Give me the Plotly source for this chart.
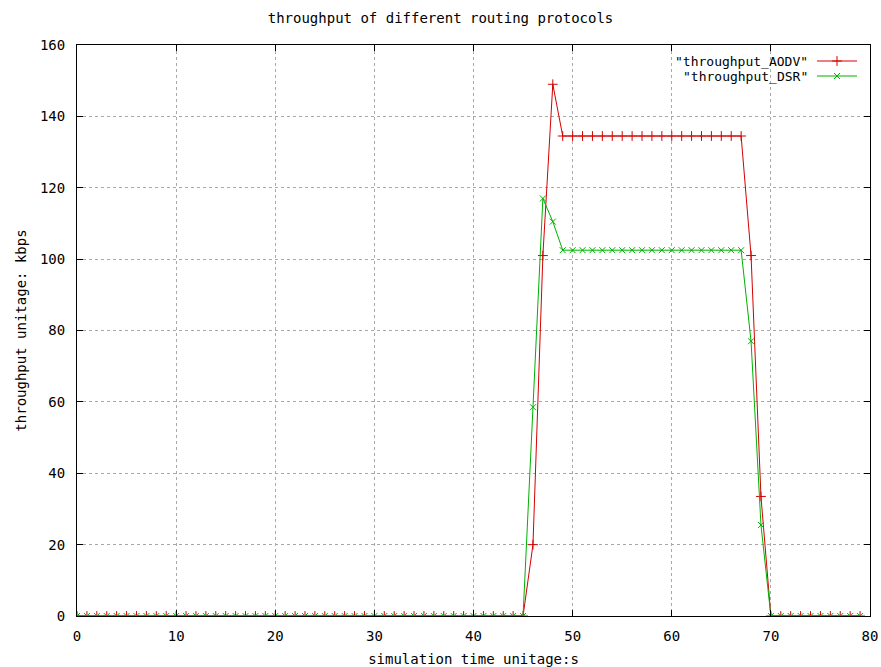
import plotly.graph_objects as go

time_s = list(range(0, 80))

aodv_tail = [20, 101, 149] + [134.5] * 19 + [101, 33.5]
aodv = [0] * 46 + aodv_tail
aodv = aodv + [0] * (80 - len(aodv))

dsr_tail = [58.5, 117, 110.5] + [102.5] * 19 + [77, 25.5]
dsr = [0] * 46 + dsr_tail
dsr = dsr + [0] * (80 - len(dsr))

series_names = ['"throughput_AODV"', '"throughput_DSR"']
series_colors = ["#d40000", "#00b000"]

x_ticks = list(range(0, 81, 10))
y_ticks = list(range(0, 161, 20))

FONT = "DejaVu Sans Mono"
FS = 14

L, R, T, B = 77, 10, 45, 51
W, H = 881, 667

pw = W - L - R
ph = H - T - B
def px_x(p):
    return (p - L) / pw
def px_y(p):
    return (H - B - p) / ph

fig = go.Figure()
fig.add_trace(go.Scatter(
    x=time_s, y=aodv, mode="lines+markers", name=" ", legend="legend",
    line=dict(color=series_colors[0], width=1),
    marker=dict(symbol="cross-thin", size=7, line=dict(color=series_colors[0], width=1)),
))
fig.add_trace(go.Scatter(
    x=time_s, y=dsr, mode="lines+markers", name=" ", legend="legend2",
    line=dict(color=series_colors[1], width=1),
    marker=dict(symbol="x-thin", size=6, line=dict(color=series_colors[1], width=1)),
))

leg_rows = [61, 76]
for i, name in enumerate(series_names):
    fig.add_annotation(
        xref="paper", yref="paper", x=px_x(810), y=px_y(leg_rows[i]),
        text=name, showarrow=False, xanchor="right", yanchor="middle",
        borderpad=0, font=dict(family=FONT, size=13, color="black"),
    )

axis_common = dict(
    showline=True, linecolor="black", linewidth=1, mirror="ticks",
    ticks="inside", ticklen=6, tickcolor="black",
    showgrid=True, gridcolor="#a8a8a8", griddash="dot", gridwidth=1,
    zeroline=False, automargin=False,
    tickfont=dict(family=FONT, size=FS, color="black"),
)

leg_common = dict(xanchor="left", yanchor="middle", bgcolor="rgba(255,255,255,0)",
                  font=dict(family=FONT, size=8, color="black"), itemwidth=40,
                  borderwidth=0)

fig.update_layout(
    width=W, height=H,
    margin=dict(l=L, r=R, t=T, b=B),
    paper_bgcolor="white", plot_bgcolor="white",
    title=dict(text="throughput of different routing protocols", x=0.5, xanchor="center",
               y=1 - 18 / H, yanchor="middle", font=dict(family=FONT, size=FS, color="black")),
    xaxis=dict(range=[0, 80], tickvals=x_ticks, ticklabelstandoff=7,
               title=dict(text="simulation time unitage:s", standoff=12,
                          font=dict(family=FONT, size=FS, color="black")),
               **axis_common),
    yaxis=dict(range=[0, 160], tickvals=y_ticks, ticklabelstandoff=8,
               title=dict(text="throughput unitage: kbps", standoff=10,
                          font=dict(family=FONT, size=FS, color="black")),
               **axis_common),
    legend=dict(x=px_x(812), y=px_y(leg_rows[0]), **leg_common),
    legend2=dict(x=px_x(812), y=px_y(leg_rows[1]), **leg_common),
    showlegend=True,
)

fig.write_html("out.html")
